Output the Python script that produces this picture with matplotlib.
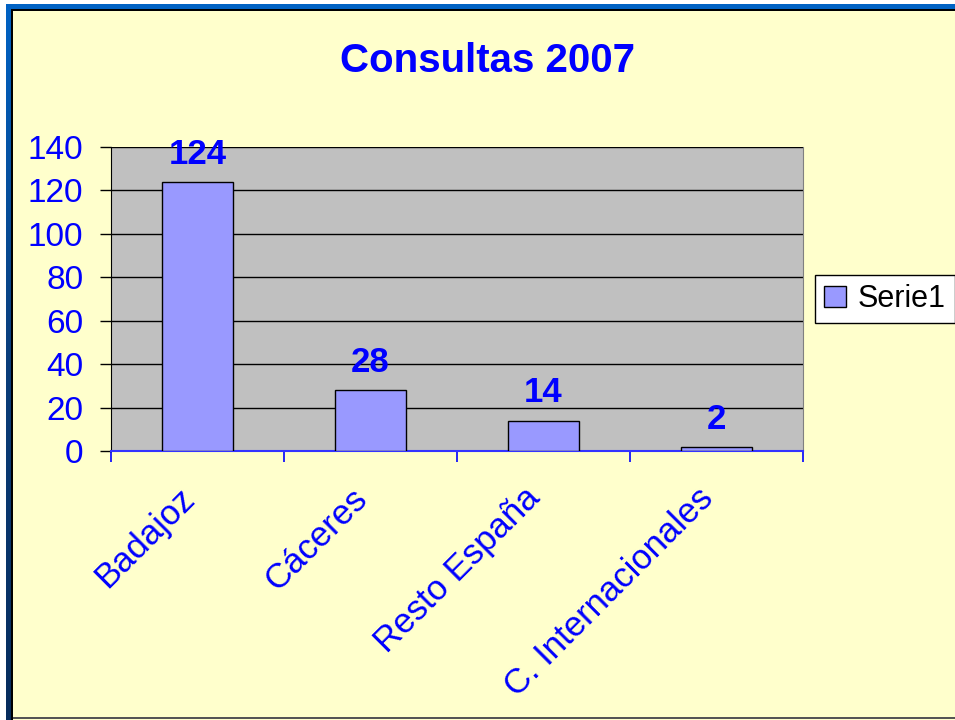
import numpy as np
import matplotlib
matplotlib.use('Agg')
import matplotlib.pyplot as plt
import matplotlib.transforms as mtransforms
from matplotlib.patches import Rectangle

# Datos de consultas por origen
categorias = ['Badajoz', 'Cáceres', 'Resto España', 'C. Internacionales']
consultas = [124, 28, 14, 2]
serie = 'Serie1'
titulo = 'Consultas 2007'

azul = '#0000FF'
fondo = '#FFFFCC'

plt.rcParams['font.family'] = ['Liberation Sans', 'DejaVu Sans']

W, H = 955, 720
fig = plt.figure(figsize=(W / 100, H / 100), dpi=100)
fig.patch.set_facecolor('white')

# Marco de la diapositiva: fondo crema, banda azul arriba y a la izquierda
def rect_px(x0, y0, x1, y1, **kw):
    fig.patches.append(Rectangle((x0 / W, 1 - y1 / H), (x1 - x0) / W, (y1 - y0) / H,
                                 transform=fig.transFigure, **kw))

rect_px(6, 4, W, H, facecolor=fondo, edgecolor='none', zorder=0)
rect_px(6, 4, W, 9, facecolor='#0062C4', edgecolor='none', zorder=1)
rect_px(11, 9, W, 10.5, facecolor='black', edgecolor='none', zorder=1)
rect_px(11, 717, W, 719, facecolor='#555555', edgecolor='none', zorder=1)

# Banda izquierda con degradado de azul a azul marino
ax_band = fig.add_axes([6 / W, 0, 5 / W, (H - 4) / H])
ax_band.set_zorder(3)
grad = np.linspace(0, 1, 256).reshape(-1, 1)
cmap = matplotlib.colors.LinearSegmentedColormap.from_list('banda', ['#0062C4', '#0A3D7A', '#062C5C'])
ax_band.imshow(grad, aspect='auto', cmap=cmap, extent=[0, 1, 0, 1])
ax_band.axis('off')
rect_px(11, 9, 12.5, H, facecolor='black', edgecolor='none', zorder=4)

# Área del gráfico
ax = fig.add_axes([111 / W, 1 - 451 / H, 692 / W, 304 / H])
ax.set_zorder(5)
ax.set_facecolor('#C0C0C0')
x = np.arange(len(categorias))
barras = ax.bar(x, consultas, width=0.405, color='#9999FF', edgecolor='black',
                linewidth=1, zorder=3, label=serie)

ax.set_xlim(-0.5, len(categorias) - 0.5)
ax.set_ylim(0, 140)
ax.set_yticks(np.arange(0, 141, 20))
ax.yaxis.grid(True, color='black', linewidth=1)
ax.set_axisbelow(True)

ax.tick_params(axis='y', direction='out', length=8, width=1, color='black',
               labelsize=24, labelcolor=azul, pad=12)

# Marcas en los límites de cada categoría y etiquetas en el centro
ax.set_xticks(np.arange(-0.5, len(categorias), 1))
ax.set_xticklabels([])
ax.tick_params(axis='x', which='major', direction='out', length=8, width=1.2, color=azul)
ax.set_xticks(x, minor=True)
ax.set_xticklabels(categorias, minor=True, rotation=45, ha='right', va='top',
                   rotation_mode='anchor', fontsize=25, color=azul)
ax.tick_params(axis='x', which='minor', length=0, pad=22)
desplaza = mtransforms.ScaledTranslation(-20 / 100, 0, fig.dpi_scale_trans)
for lab in ax.get_xticklabels(minor=True):
    lab.set_transform(lab.get_transform() + desplaza)

ax.spines['top'].set_visible(False)
ax.spines['right'].set_color('#808080')
ax.spines['left'].set_color('black')
ax.spines['bottom'].set_color('#3333FF')
ax.spines['bottom'].set_linewidth(1.5)

# Valores sobre cada barra
for xi, v in zip(x, consultas):
    ax.annotate(str(v), (xi, v), xytext=(0, 8), textcoords='offset points',
                ha='center', va='bottom', fontsize=25, fontweight='bold', color=azul,
                annotation_clip=False)

fig.text(487 / W, 1 - 61 / H, titulo, ha='center', va='center', fontsize=29,
         fontweight='bold', color=azul, zorder=5)

leg = fig.legend(handles=[barras], labels=[serie], loc='upper left',
                 bbox_to_anchor=(815 / W, 1 - 275 / H), fontsize=22, frameon=True,
                 fancybox=False, edgecolor='black', framealpha=1,
                 handlelength=0.7, handleheight=0.7, handletextpad=0.4,
                 borderpad=0.3, borderaxespad=0)
leg.get_frame().set_linewidth(1)
leg.set_zorder(6)

fig.savefig('out.png', dpi=100, facecolor=fig.get_facecolor())
